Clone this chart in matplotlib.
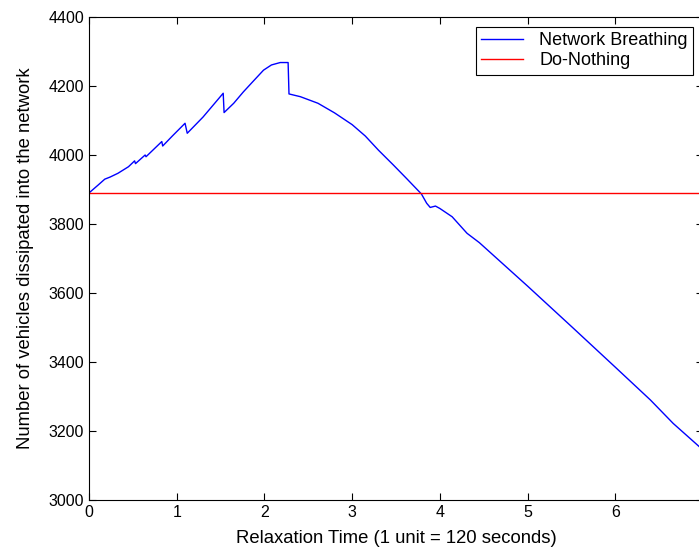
import matplotlib
matplotlib.use('Agg')
import matplotlib.pyplot as plt

plt.rcParams['font.family'] = ['Liberation Sans', 'DejaVu Sans']

# relaxation time vs vehicles dissipated
time_nb = [0.00, 0.10, 0.18, 0.24, 0.33, 0.45, 0.52, 0.53, 0.64, 0.65, 0.83, 0.84,
           0.95, 1.095, 1.12, 1.30, 1.53, 1.54, 1.65, 1.76, 1.88, 1.99, 2.08, 2.18,
           2.27, 2.28, 2.41, 2.61, 2.80, 3.00, 3.15, 3.30, 3.47, 3.62, 3.79, 3.85,
           3.89, 3.95, 4.00, 4.14, 4.31, 4.45, 5.00, 5.50, 6.00, 6.40, 6.66, 7.00]
veh_nb = [3890, 3912, 3930, 3936, 3947, 3966, 3983, 3975, 4000, 3995, 4039, 4026,
          4055, 4092, 4063, 4110, 4179, 4123, 4150, 4183, 4216, 4246, 4261, 4268,
          4268, 4177, 4169, 4150, 4122, 4088, 4055, 4014, 3971, 3932, 3887, 3860,
          3848, 3852, 3845, 3821, 3773, 3746, 3620, 3503, 3385, 3290, 3222, 3145]

time_dn = [0, 7]
veh_dn = [3890, 3890]

fig = plt.figure(figsize=(6.99, 5.52), dpi=100)
ax = fig.add_axes([89/699, 1-500/552, (703-89)/699, (500-17)/552])

ax.plot(time_nb, veh_nb, color=(0, 0, 1), lw=1.0, label='Network Breathing')
ax.plot(time_dn, veh_dn, color=(1, 0, 0), lw=1.0, label='Do-Nothing')

ax.set_xlim(0, 7)
ax.set_ylim(3000, 4400)
ax.set_xticks(range(0, 8))
ax.set_yticks(range(3000, 4401, 200))
ax.tick_params(direction='in', top=True, right=True, labelsize=11.5, length=5, width=0.8)
for s in ax.spines.values():
    s.set_linewidth(0.8)

ax.set_xlabel('Relaxation Time (1 unit = 120 seconds)', fontsize=13.3, labelpad=7)
ax.set_ylabel('Number of vehicles dissipated into the network', fontsize=13.3, labelpad=10)

leg = ax.legend(loc='upper right', bbox_to_anchor=(1 - 10/614, 1 - 10/483),
                borderaxespad=0, fancybox=False, framealpha=1, fontsize=13,
                handlelength=2.3, borderpad=0.3, labelspacing=0.15, handletextpad=0.9)
leg.get_frame().set_edgecolor('black')
leg.get_frame().set_linewidth(0.8)

fig.savefig('out.png', dpi=100)
